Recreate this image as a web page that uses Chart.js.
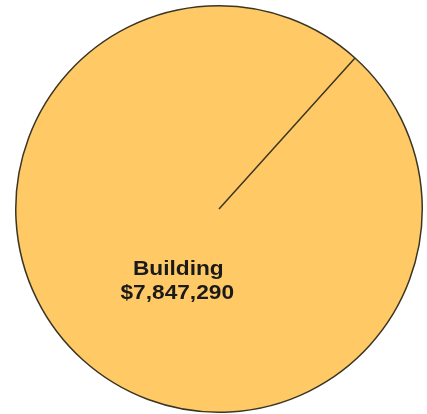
<!DOCTYPE html>
<html>
<head>
<meta charset="utf-8">
<script src="https://cdn.jsdelivr.net/npm/chart.js@4/dist/chart.umd.min.js"></script>
<style>
  html, body { margin: 0; padding: 0; background: #fff; }
  #wrap { width: 427px; height: 414px; }
</style>
</head>
<body>
<div id="wrap"><canvas id="c"></canvas></div>
<script>
// data
const categories = ['Building'];
const values = [7847290];
const sliceColors = ['#FFCA66'];

// label inside the slice: name + dollar amount
const sliceLabels = {
    id: 'sliceLabels',
    afterDatasetsDraw(chart) {
        const ctx = chart.ctx;
        const meta = chart.getDatasetMeta(0);
        meta.data.forEach((arc, i) => {
            const mid = (arc.startAngle + arc.endAngle) / 2;
            const r = arc.outerRadius * 0.41;
            const x = arc.x + Math.cos(mid) * r + 14;
            const y = arc.y + Math.sin(mid) * r + 10;
            ctx.save();
            ctx.fillStyle = '#1a1a1a';
            ctx.font = 'bold 21px "Liberation Sans", Arial, sans-serif';
            ctx.textAlign = 'center';
            ctx.textBaseline = 'middle';
            ctx.translate(x, y);
            ctx.scale(1.08, 1);
            ctx.fillText(categories[i], 1, -12);
            ctx.fillText('$' + values[i].toLocaleString('en-US'), 0, 12);
            ctx.restore();
        });
    }
};

new Chart(document.getElementById('c'), {
    type: 'pie',
    data: {
        labels: categories,
        datasets: [{
            data: values,
            backgroundColor: sliceColors,
            borderColor: '#3b3524',
            borderWidth: 1.5
        }]
    },
    options: {
        responsive: true,
        maintainAspectRatio: false,
        animation: false,
        rotation: 42,
        layout: { padding: { top: 5, bottom: 1, left: 11, right: 0 } },
        plugins: {
            legend: { display: false },
            tooltip: { enabled: false }
        }
    },
    plugins: [sliceLabels]
});
</script>
</body>
</html>
